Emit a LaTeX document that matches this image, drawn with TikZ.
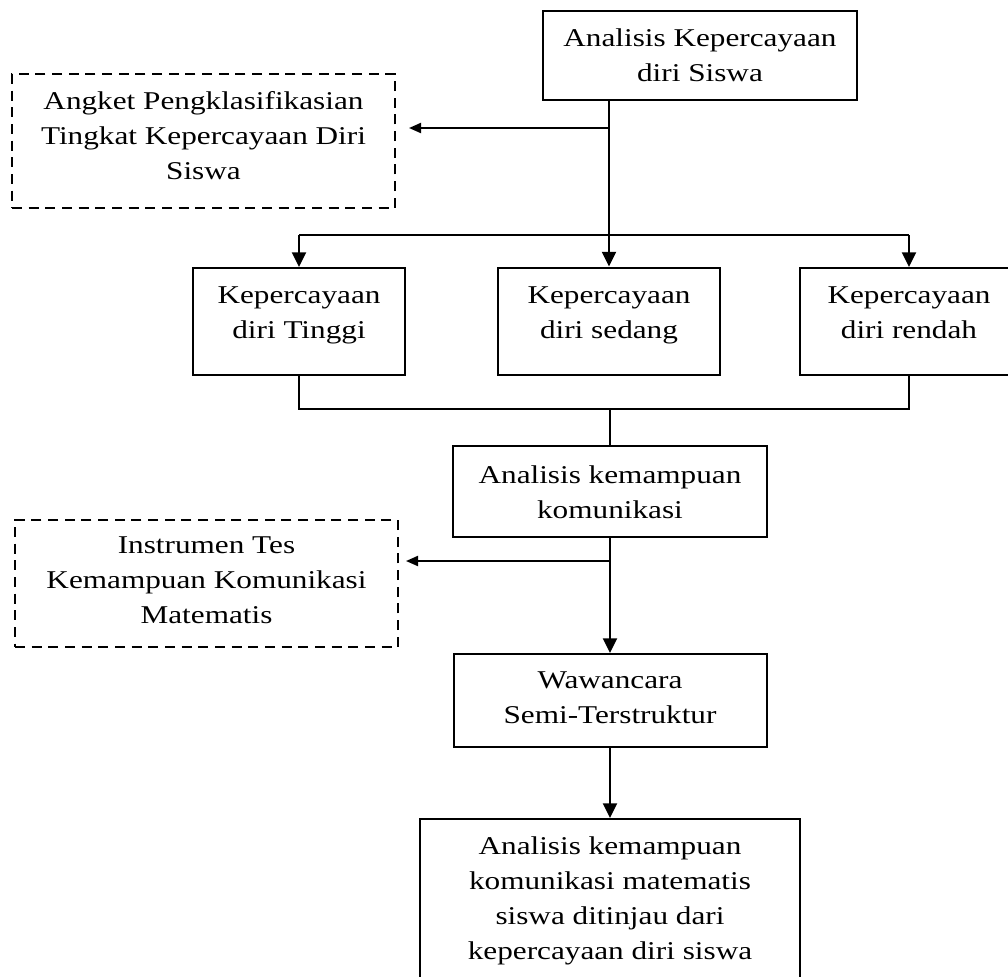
\documentclass[tikz,border=0pt]{standalone}
\usepackage{fontspec}
\setmainfont{Liberation Serif}[FakeStretch=1.22]
\usetikzlibrary{arrows.meta}
\begin{document}
\begin{tikzpicture}[x=0.75pt,y=-0.75pt,
  box/.style={draw, line width=1.5pt, inner sep=0pt, rectangle},
  dbox/.style={box, dash pattern=on 7.5pt off 5pt},
  txt/.style={inner sep=0pt, align=center, font=\fontsize{19.2pt}{26.25pt}\selectfont, anchor=north},
  ln/.style={line width=1.5pt},
  arr/.style={ln, -{Triangle[length=11pt,width=10.5pt]}},
  sarr/.style={ln, -{Triangle[length=9pt,width=7.5pt]}}]
\useasboundingbox (0,0) rectangle (1008,976);

% boxes
\node[box, minimum width=235.5pt, minimum height=66.75pt] (top) at (700,55.5) {};
\node[dbox, minimum width=287.25pt, minimum height=100.5pt] (d1) at (203.5,141) {};
\node[box, minimum width=159pt, minimum height=80.25pt] (lft) at (299,321.5) {};
\node[box, minimum width=166.5pt, minimum height=80.25pt] (mid) at (609,321) {};
\node[box, minimum width=163.5pt, minimum height=80.25pt] (rgt) at (909,321.5) {};
\node[box, minimum width=235.5pt, minimum height=68.25pt] (kom) at (610,491.5) {};
\node[dbox, minimum width=287.25pt, minimum height=95.25pt] (d2) at (206.5,583.5) {};
\node[box, minimum width=234.75pt, minimum height=69.75pt] (waw) at (610,700.5) {};
\node[box, minimum width=285pt, minimum height=143.25pt] (fin) at (610,914.5) {};

% texts
\node[txt] (ttop) at (700,28) {Analisis Kepercayaan\\diri Siswa};
\node[txt] (td1) at (203.5,91) {Angket Pengklasifikasian\\Tingkat Kepercayaan Diri\\Siswa};
\node[txt] (tlft) at (299,286) {Kepercayaan\\diri Tinggi};
\node[txt] (tmid) at (609,286) {Kepercayaan\\diri sedang};
\node[txt] (trgt) at (909,286) {Kepercayaan\\diri rendah};
\node[txt] (tkom) at (610,465) {Analisis kemampuan\\komunikasi};
\node[txt] (td2) at (206.5,536) {Instrumen Tes\\Kemampuan Komunikasi\\Matematis};
\node[txt] (twaw) at (610,671) {Wawancara\\Semi-Terstruktur};
\node[txt] (tfin) at (610,836) {Analisis kemampuan\\komunikasi matematis\\siswa ditinjau dari\\kepercayaan diri siswa};

% junctions
\coordinate (j1) at (609,128);
\coordinate (j2) at (609,235);
\coordinate (j3) at (609,409);
\coordinate (j4) at (610,561);

% connectors
\draw[arr] (top.south -| mid.north) -- (mid.north);
\draw[sarr, shorten >=9.75pt] (j1) -- (j1 -| d1.east);
\draw[ln] (j2 -| lft.north) -- (j2 -| rgt.north);
\draw[arr] (j2 -| lft.north) -- (lft.north);
\draw[arr] (j2 -| rgt.north) -- (rgt.north);
\draw[ln] (lft.south) -- (lft.south |- j3) -- (rgt.south |- j3) -- (rgt.south);
\draw[ln] (j3 -| kom.north) -- (kom.north);
\draw[arr] (kom.south) -- (waw.north);
\draw[sarr, shorten >=5.25pt] (j4) -- (j4 -| d2.east);
\draw[arr] (waw.south) -- (fin.north);
\end{tikzpicture}
\end{document}
